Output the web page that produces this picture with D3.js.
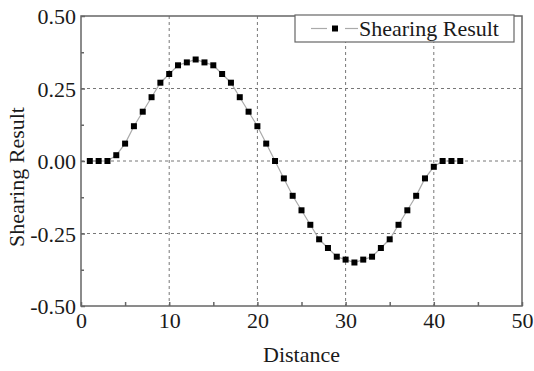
<!DOCTYPE html>
<html><head><meta charset="utf-8">
<script src="https://cdn.jsdelivr.net/npm/d3@7"></script>
<style>body{margin:0;background:#fff}svg{display:block}text{font-family:"Liberation Serif","Times New Roman",serif;fill:#1a1a1a}</style>
</head><body>
<svg id="c" width="534" height="371"></svg>
<script>
const distance = [1,2,3,4,5,6,7,8,9,10,11,12,13,14,15,16,17,18,19,20,21,22,23,24,25,26,27,28,29,30,31,32,33,34,35,36,37,38,39,40,41,42,43];
const shearing = [0,0,0,0.02,0.06,0.12,0.17,0.22,0.27,0.30,0.33,0.34,0.35,0.34,0.33,0.30,0.27,0.22,0.17,0.12,0.06,0,-0.06,-0.12,-0.17,-0.22,-0.27,-0.30,-0.33,-0.34,-0.35,-0.34,-0.33,-0.30,-0.27,-0.22,-0.17,-0.12,-0.06,-0.02,0,0,0];
const xTicks = [0,10,20,30,40,50];
const yTicks = [-0.50,-0.25,0.00,0.25,0.50];
const yTickLabels = ["-0.50","-0.25","0.00","0.25","0.50"];
const xMinor = [5,15,25,35,45];
const yMinor = [-0.375,-0.125,0.125,0.375];
const seriesName = "Shearing Result";
const xTitle = "Distance";
const yTitle = "Shearing Result";

const L=81,R=522,T=16,B=306;
const svg=d3.select("#c");
const x=d3.scaleLinear().domain([0,50]).range([L,R]);
const y=d3.scaleLinear().domain([-0.5,0.5]).range([B,T]);
const axisCol="#666";
const FONT="'Liberation Serif','Times New Roman',serif";

// grid
const g=svg.append("g");
xTicks.filter(v=>v>0&&v<50).forEach(v=>g.append("line").attr("x1",x(v)).attr("x2",x(v)).attr("y1",T).attr("y2",B).attr("stroke","#777").attr("stroke-width",1).attr("stroke-dasharray","3,3"));
yTicks.filter(v=>v>-0.5&&v<0.5).forEach(v=>g.append("line").attr("x1",L).attr("x2",R).attr("y1",y(v)).attr("y2",y(v)).attr("stroke","#777").attr("stroke-width",1).attr("stroke-dasharray","3,3"));

// frame
svg.append("rect").attr("x",L).attr("y",T).attr("width",R-L).attr("height",B-T).attr("fill","none").attr("stroke",axisCol).attr("stroke-width",1.5);

// axes
const xa=svg.append("g").attr("transform",`translate(0,${B})`).call(d3.axisBottom(x).tickValues(xTicks).tickSize(-4).tickPadding(8).tickFormat(d3.format("d")));
const xm=svg.append("g").attr("transform",`translate(0,${B})`).call(d3.axisBottom(x).tickValues(xMinor).tickSize(-4).tickFormat(""));
const ya=svg.append("g").attr("transform",`translate(${L},0)`).call(d3.axisLeft(y).tickValues(yTicks).tickSize(-4).tickPadding(5).tickFormat((d,i)=>yTickLabels[i]));
const ym=svg.append("g").attr("transform",`translate(${L},0)`).call(d3.axisLeft(y).tickValues(yMinor).tickSize(-3).tickFormat(""));
[xa,xm,ya,ym].forEach(a=>{a.attr("font-family",FONT).attr("font-size",22);a.select(".domain").remove();a.selectAll(".tick line").attr("stroke",axisCol).attr("stroke-width",1.5);a.selectAll("text").attr("fill","#1a1a1a");});
xa.selectAll("text").attr("dy","0.71em").attr("y",6);
ya.selectAll("text").attr("dy","0.35em");

// line and markers
const line=d3.line().x((d,i)=>x(distance[i])).y(d=>y(d));
svg.append("path").datum(shearing).attr("d",line).attr("fill","none").attr("stroke","#aaa").attr("stroke-width",1.2);
svg.selectAll("rect.m").data(shearing).enter().append("rect").attr("class","m")
  .attr("x",(d,i)=>x(distance[i])-3).attr("y",d=>y(d)-3).attr("width",6).attr("height",6).attr("fill","#000");

// titles
svg.append("text").attr("x",(L+R)/2).attr("y",362).attr("text-anchor","middle").attr("font-family",FONT).attr("font-size",22).text(xTitle);
svg.append("text").attr("transform",`translate(24,177) rotate(-90)`).attr("text-anchor","middle").attr("font-family",FONT).attr("font-size",22).text(yTitle);

// legend
const lg=svg.append("g");
lg.append("rect").attr("x",295).attr("y",15).attr("width",219).attr("height",27).attr("fill","#fff").attr("stroke",axisCol).attr("stroke-width",1.2);
lg.append("line").attr("x1",311).attr("x2",327).attr("y1",28.5).attr("y2",28.5).attr("stroke","#aaa").attr("stroke-width",1.2);
lg.append("line").attr("x1",345).attr("x2",358).attr("y1",28.5).attr("y2",28.5).attr("stroke","#aaa").attr("stroke-width",1.2);
lg.append("rect").attr("x",332).attr("y",25.5).attr("width",6).attr("height",6).attr("fill","#000");
lg.append("text").attr("x",359).attr("y",36).attr("font-family",FONT).attr("font-size",22).text(seriesName);
</script>
</body></html>
